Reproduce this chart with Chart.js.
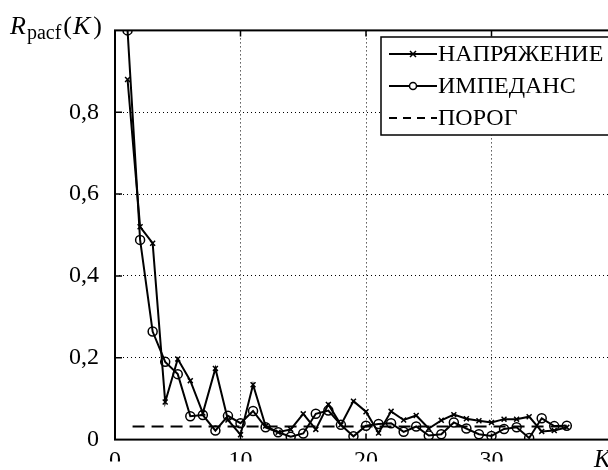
<!DOCTYPE html>
<html>
<head>
<meta charset="utf-8">
<script src="https://cdn.jsdelivr.net/npm/chart.js@4.4.0/dist/chart.umd.min.js"></script>
<style>
  html, body { margin: 0; padding: 0; background: #fff; overflow: hidden; }
  #wrap { position: relative; width: 640px; height: 470px; }
</style>
</head>
<body>
<div id="wrap"><canvas id="chart" width="640" height="470"></canvas></div>
<script>
const lags = [1, 2, 3, 4, 5, 6, 7, 8, 9, 10, 11, 12, 13, 14, 15, 16, 17, 18,
  19, 20, 21, 22, 23, 24, 25, 26, 27, 28, 29, 30, 31, 32, 33, 34, 35, 36];
const voltage = [0.88, 0.52, 0.48, 0.092, 0.197, 0.144, 0.065, 0.174, 0.048, 0.012,
  0.134, 0.033, 0.018, 0.025, 0.063, 0.025, 0.086, 0.036, 0.094, 0.068, 0.016,
  0.069, 0.048, 0.059, 0.027, 0.047, 0.061, 0.051, 0.046, 0.042, 0.05, 0.05,
  0.056, 0.02, 0.022, 0.03];
const impedance = [1.0, 0.488, 0.264, 0.19, 0.16, 0.057, 0.06, 0.022, 0.058, 0.04,
  0.07, 0.03, 0.018, 0.007, 0.015, 0.063, 0.071, 0.036, 0.008, 0.034, 0.038,
  0.04, 0.019, 0.032, 0.01, 0.013, 0.042, 0.027, 0.013, 0.009, 0.026, 0.03,
  0.004, 0.052, 0.033, 0.034];
const thresholdLags = [1.4, 36];
const thresholdValue = [0.032, 0.032];
const seriesNames = ["НАПРЯЖЕНИЕ", "ИМПЕДАНС", "ПОРОГ"];
const xTicks = [0, 10, 20, 30];
const yTicks = [0, 0.2, 0.4, 0.6, 0.8];

const SERIF = "'Liberation Serif', 'DejaVu Serif', serif";

function toPoints(xs, ys) {
  return xs.map((x, i) => ({ x: x, y: ys[i] }));
}

// frame, inward ticks, legend box and the axis titles
const decorations = {
  id: "decorations",
  afterDraw(chart) {
    const ctx = chart.ctx;
    const a = chart.chartArea;
    const xs = chart.scales.x;
    const ys = chart.scales.y;
    ctx.save();
    ctx.strokeStyle = "#000";
    ctx.lineWidth = 2;
    ctx.strokeRect(a.left, a.top, a.right - a.left, a.bottom - a.top);

    ctx.lineWidth = 1.5;
    ctx.beginPath();
    for (const v of [10, 20, 30]) {
      const px = xs.getPixelForValue(v);
      ctx.moveTo(px, a.bottom); ctx.lineTo(px, a.bottom - 6);
      ctx.moveTo(px, a.top); ctx.lineTo(px, a.top + 6);
    }
    for (const v of [0.2, 0.4, 0.6, 0.8]) {
      const py = ys.getPixelForValue(v);
      ctx.moveTo(a.left, py); ctx.lineTo(a.left + 7, py);
      ctx.moveTo(a.right, py); ctx.lineTo(a.right - 7, py);
    }
    ctx.stroke();

    // legend
    const lx = 381, ly = 37;
    ctx.fillStyle = "#fff";
    ctx.fillRect(lx, ly, 300, 98);
    ctx.lineWidth = 1.5;
    ctx.strokeRect(lx, ly, 300, 98);
    const rows = [54, 86, 118];
    ctx.font = "24px " + SERIF;
    ctx.textBaseline = "middle";
    ctx.fillStyle = "#000";
    rows.forEach((ry, i) => {
      ctx.lineWidth = 2;
      ctx.setLineDash(i === 2 ? [8, 6] : []);
      ctx.beginPath();
      ctx.moveTo(389, ry); ctx.lineTo(437, ry);
      ctx.stroke();
      ctx.setLineDash([]);
      ctx.lineWidth = 1.5;
      if (i === 0) {
        ctx.beginPath();
        ctx.moveTo(410, ry - 3); ctx.lineTo(416, ry + 3);
        ctx.moveTo(410, ry + 3); ctx.lineTo(416, ry - 3);
        ctx.stroke();
      } else if (i === 1) {
        ctx.beginPath();
        ctx.fillStyle = "#fff";
        ctx.arc(413, ry, 3.5, 0, Math.PI * 2);
        ctx.fill();
        ctx.stroke();
        ctx.fillStyle = "#000";
      }
      ctx.fillText(seriesNames[i], 438, ry + 1);
    });

    // y axis title R_pacf(K)
    ctx.textBaseline = "alphabetic";
    let x = 10;
    const base = 34;
    ctx.font = "italic 26px " + SERIF;
    ctx.fillText("R", x, base);
    x += ctx.measureText("R").width + 1;
    ctx.font = "20px " + SERIF;
    ctx.fillText("pacf", x, base + 5);
    x += ctx.measureText("pacf").width + 2;
    ctx.font = "26px " + SERIF;
    ctx.fillText("(", x, base);
    x += ctx.measureText("(").width + 1;
    ctx.font = "italic 26px " + SERIF;
    ctx.fillText("K", x, base);
    x += ctx.measureText("K").width + 3;
    ctx.font = "26px " + SERIF;
    ctx.fillText(")", x, base);

    // x axis title
    ctx.font = "italic 25px " + SERIF;
    ctx.fillText("K", 594, 467);
    ctx.restore();
  }
};

const gridColor = (ctx, max) =>
  ctx.tick && (ctx.tick.value === 0 || ctx.tick.value === max) ? "rgba(0,0,0,0)" : "#000";

new Chart(document.getElementById("chart"), {
  type: "line",
  data: {
    datasets: [
      {
        label: seriesNames[0],
        data: toPoints(lags, voltage),
        borderColor: "#000",
        borderWidth: 2,
        pointStyle: "crossRot",
        pointRadius: 3.5,
        pointBorderWidth: 1.5,
        pointBorderColor: "#000",
        tension: 0,
      },
      {
        label: seriesNames[1],
        data: toPoints(lags, impedance),
        borderColor: "#000",
        borderWidth: 2,
        pointStyle: "circle",
        pointRadius: 4.5,
        pointBorderWidth: 1.5,
        pointBorderColor: "#000",
        pointBackgroundColor: "rgba(255,255,255,0)",
        tension: 0,
      },
      {
        label: seriesNames[2],
        data: toPoints(thresholdLags, thresholdValue),
        borderColor: "#000",
        borderWidth: 2,
        borderDash: [12, 7],
        pointRadius: 0,
        tension: 0,
      },
    ],
  },
  options: {
    responsive: false,
    animation: false,
    layout: { padding: { top: 29, right: 23, left: 0, bottom: 0 } },
    plugins: { legend: { display: false }, tooltip: { enabled: false } },
    scales: {
      x: {
        type: "linear",
        min: 0,
        max: 40,
        afterFit(scale) { scale.height = 22; },
        afterBuildTicks(scale) { scale.ticks = xTicks.map(v => ({ value: v })); },
        ticks: {
          padding: 7,
          color: "#000",
          font: { family: SERIF, size: 24 },
          maxRotation: 0,
        },
        grid: {
          drawTicks: false,
          color: ctx => gridColor(ctx, 40),
          lineWidth: 1,
        },
        border: { display: false, dash: [1, 3] },
      },
      y: {
        min: 0,
        max: 1,
        afterFit(scale) { scale.width = 115; },
        afterBuildTicks(scale) {
          scale.ticks = yTicks.concat([1]).map(v => ({ value: v }));
        },
        ticks: {
          padding: 16,
          color: "#000",
          font: { family: SERIF, size: 24 },
          callback: v => (v === 1 ? "" : v === 0 ? "0" : v.toFixed(1).replace(".", ",")),
        },
        grid: {
          drawTicks: false,
          color: ctx => gridColor(ctx, 1),
          lineWidth: 1,
        },
        border: { display: false, dash: [1, 3] },
      },
    },
  },
  plugins: [decorations],
});
</script>
</body>
</html>
